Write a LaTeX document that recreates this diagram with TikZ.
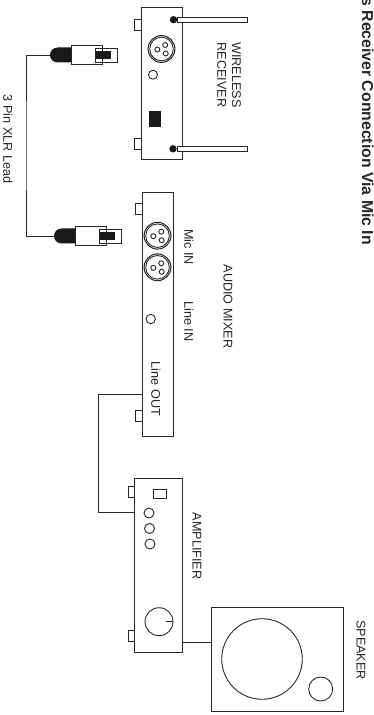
\documentclass[tikz,border=0pt]{standalone}
\usepackage{fontspec}
\setmainfont{Liberation Sans}
\usetikzlibrary{positioning,calc}
\tikzset{
  every picture/.style={line width=0.5pt},
  unit/.style args={#1 by #2}{draw=black!85,fill=white,inner sep=0,minimum width=#1*0.02cm,minimum height=#2*0.02cm},
  lbl/.style={rotate=-90,inner sep=0,font=\fontsize{7.2}{8.4}\selectfont,text=black!85,align=center},
  lead/.style={draw=black!85,line width=0.5pt},
  hole/.style={circle,draw=black!85,inner sep=0,minimum size=#1*0.04cm},
}
% one round three pin socket, centre at #1
\newcommand\xlrsocket[2]{
\node[hole=13.4,line width=0.6pt] (#2) at (#1) {};
\node[hole=11.8] at (#1) {};
\node[hole=2.5] at ($(#1)+(3.7,-4)$) {};
\node[hole=2.5] at ($(#1)+(-4.2,0.5)$) {};
\node[hole=2.5] at ($(#1)+(4.2,4.5)$) {};
}
% one plug, cable comes in at its left end
\newcommand\xlrplug[2]{
\begin{scope}[shift={(#1)}]
\fill[black!90] (21,-7.5) -- (8,-7.5) .. controls (3,-7.5) and (0,-4) .. (0,0) .. controls (0,4) and (3,7.5) .. (8,7.5) -- (21,7.5) -- cycle;
\node[unit=31 by 19.5] at (36.5,0) {};
\node[unit=15.5 by 14] at (60,0) {};
\node[unit=7 by 14] at (49,0) {};
\fill[black!90] (45.5,-4) rectangle (61,4);
\coordinate (#2) at (0,0);
\end{scope}
}
\begin{document}
\begin{tikzpicture}[x=0.02cm,y=-0.02cm]
\clip (0,0) rectangle (374,715);
\useasboundingbox (0,0) rectangle (374,715);
\node[rotate=-90,inner sep=0,anchor=north west,font=\fontsize{9}{10}\bfseries\selectfont,text=black!85] (title) at (374,-3) {s Receiver Connection Via Mic In};

% receiver
\node[unit=40.5 by 152] (rcvr) at (161.75,83) {};
\node[unit=7 by 11] (rcvrtaba) at (138,24.5) {};
\node[unit=7 by 11] (rcvrtabb) at (138,143.5) {};
\node[unit=70 by 4.5] (anta) at (212,19.7) {};
\node[unit=70 by 4.5] (antb) at (212,148.8) {};
\fill[black!90] (173.5,19.7) circle (3.7);
\fill[black!90] (173,148.8) circle (3.7);
\xlrsocket{161.5,49}{rcvrxlr}
\node[hole=4.5] (rcvrled) at (153,74.7) {};
\fill[black!90] (148.5,111) rectangle (160.5,127);
\node[lbl] (rcvrlbl) at (229,75) {WIRELESS\\RECEIVER};

% lead
\xlrplug{50,55}{plugtop}
\xlrplug{54,236}{plugbot}
\node[lbl] (leadlbl) at (8,139) {3 Pin XLR Lead};
\draw[lead] (plugtop) -| (26,145.5) |- (plugbot);

% mixer
\node[unit=31.5 by 244.5] (mixer) at (157.75,314.5) {};
\node[unit=6.5 by 10.5] (mixtaba) at (138.75,209) {};
\node[unit=6.5 by 11.5] (mixtabb) at (138.75,416) {};
\xlrsocket{157.5,235.7}{micone}
\xlrsocket{157.5,267.3}{mictwo}
\node[hole=4.7] (mixled) at (150.7,319) {};
\node[lbl] (miclbl) at (189,247) {Mic IN};
\node[lbl] (linelbl) at (189,321.3) {Line IN};
\node[lbl] (outlbl) at (156,389) {Line OUT};
\node[lbl] (mixlbl) at (228,306.5) {AUDIO MIXER};

% amplifier
\node[unit=47.5 by 174] (amp) at (158.25,565) {};
\node[unit=6 by 11] (amptaba) at (131.5,492) {};
\node[unit=6 by 11.5] (amptabb) at (131.5,635.7) {};
\node[unit=13 by 9] (ampsw) at (160,494) {};
\node[hole=5] (ampa) at (149,513) {};
\node[hole=5] (ampb) at (149.5,528.5) {};
\node[hole=5] (ampc) at (150,544) {};
\node[hole=14] (ampknob) at (159,621.7) {};
\draw[lead] (ampknob.center) ++(7,0) -- (ampknob.east);
\node[lbl] (amplbl) at (197,546) {AMPLIFIER};
\coordinate (mixout) at (mixer.west |- 0,394);
\coordinate (ampin) at (amp.west |- 0,512.7);
\draw[lead] (mixout) -- (98.5,394) |- (ampin);

% speaker
\node[unit=131.5 by 103.3] (spkr) at (277.25,659.3) {};
\node[hole=40.3] (woofer) at (262,659) {};
\node[hole=12] (tweeter) at (320.7,689) {};
\node[lbl] (spkrlbl) at (361,650) {SPEAKER};
\coordinate (ampout) at (amp.east |- 0,642);
\draw[lead] (ampout) -- (spkr.west |- ampout);
\end{tikzpicture}
\end{document}
